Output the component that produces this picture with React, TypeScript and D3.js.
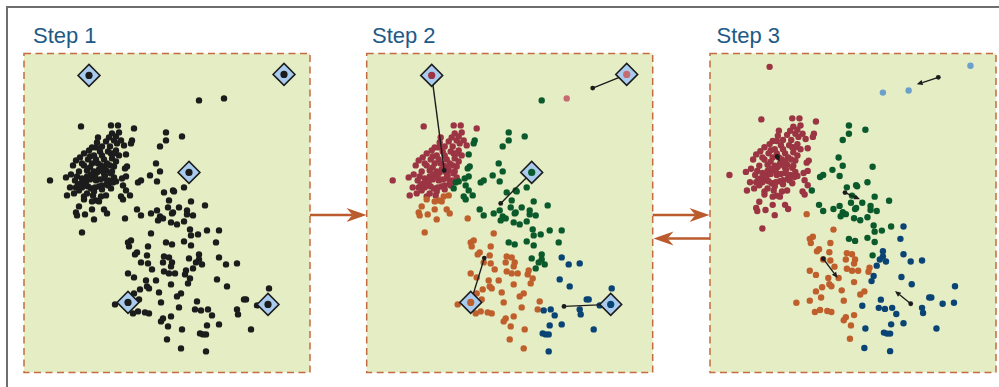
import React from 'react';
import * as d3 from 'd3';

// Data points in panel-local units: [x, y, cluster at step 2, cluster at step 3]
const points: Array<[number, number, string, string]> = [
  // red cluster
  [57,73,'R','R'],[87,72,'R','R'],[94,72,'R','R'],[110,75,'R','R'],[74,84,'R','R'],[95,79,'R','R'],[90,87,'R','R'],[97,87,'R','R'],
  [73,89,'R','R'],[68,94,'R','R'],[86,93,'R','R'],[92,97,'R','R'],[100,92,'R','R'],[76,98,'R','R'],[87,100,'R','R'],[95,102,'R','R'],
  [66,103,'R','R'],[72,106,'R','R'],[80,106,'R','R'],[52,107,'R','R'],[60,112,'R','R'],[68,110,'R','R'],[83,110,'R','R'],[90,113,'R','R'],
  [49,112,'R','R'],[63,117,'R','R'],[70,118,'R','R'],[82,117,'R','R'],[87,120,'R','R'],[53,123,'R','R'],[58,125,'R','R'],[63,123,'R','R'],
  [72,127,'R','R'],[80,125,'R','R'],[85,127,'R','R'],[26,127,'R','R'],[42,124,'R','R'],[57,130,'R','R'],[62,132,'R','R'],[78,132,'R','R'],
  [83,130,'R','R'],[52,134,'R','R'],[67,135,'R','R'],[75,133,'R','R'],[55,137,'R','R'],[70,138,'R','R'],[63,140,'R','R'],[43,142,'R','R'],
  [80,120,'R','R'],[77,112,'R','R'],[88,105,'R','R'],[93,90,'R','R'],
  [60,100,'R','R'],[64,106,'R','R'],[70,102,'R','R'],[78,102,'R','R'],[84,98,'R','R'],[90,100,'R','R'],[92,108,'R','R'],[86,112,'R','R'],
  [80,114,'R','R'],[74,110,'R','R'],[66,114,'R','R'],[58,110,'R','R'],[55,118,'R','R'],[62,128,'R','R'],[67,121,'R','R'],[73,119,'R','R'],
  [76,126,'R','R'],[81,122,'R','R'],[88,118,'R','R'],[90,124,'R','R'],[84,132,'R','R'],[78,136,'R','R'],[71,134,'R','R'],[64,133,'R','R'],
  [58,134,'R','R'],[51,127,'R','R'],[47,121,'R','R'],[54,131,'R','R'],[69,142,'R','R'],[60,143,'R','R'],[82,88,'R','R'],[78,93,'R','R'],
  [85,84,'R','R'],[88,80,'R','R'],[92,83,'R','R'],[72,94,'R','R'],[65,97,'R','R'],[56,104,'R','R'],[46,134,'R','R'],[50,140,'R','R'],
  [75,116,'R','R'],[79,118,'R','R'],[71,123,'R','R'],[66,126,'R','R'],
  // orange that becomes red
  [60,146,'O','R'],[72,147,'O','R'],[77,143,'O','R'],[82,142,'O','R'],[68,148,'O','R'],[75,148,'O','R'],[55,153,'O','R'],[68,156,'O','R'],
  [80,156,'O','R'],[52,159,'O','R'],[53,162,'O','R'],[61,161,'O','R'],[70,166,'O','R'],[83,160,'O','R'],[58,179,'O','R'],
  // orange
  [101,165,'O','O'],[127,180,'O','O'],[107,187,'O','O'],[104,189,'O','O'],[105,193,'O','O'],[124,193,'O','O'],[113,199,'O','O'],[111,201,'O','O'],
  [123,202,'O','O'],[140,203,'O','O'],[117,209,'O','O'],[124,210,'O','O'],[139,209,'O','O'],[128,216,'O','O'],[140,218,'O','O'],[104,220,'O','O'],
  [110,224,'O','O'],[122,227,'O','O'],[132,227,'O','O'],[123,233,'O','O'],[125,235,'O','O'],[116,236,'O','O'],[135,239,'O','O'],[110,240,'O','O'],
  [115,246,'O','O'],[137,249,'O','O'],[91,251,'O','O'],[114,258,'O','O'],[109,260,'O','O'],[121,259,'O','O'],[125,260,'O','O'],[139,265,'O','O'],
  [137,268,'O','O'],[144,273,'O','O'],[143,286,'O','O'],[145,204,'O','O'],[148,209,'O','O'],[147,213,'O','O'],[145,220,'O','O'],[151,220,'O','O'],
  [162,217,'O','O'],[161,221,'O','O'],[147,231,'O','O'],[157,240,'O','O'],[153,243,'O','O'],[147,263,'O','O'],
  // orange that becomes blue
  [157,295,'O','B'],[158,276,'O','B'],[155,254,'O','B'],[171,256,'O','B'],[173,248,'O','B'],[166,225,'O','B'],[164,230,'O','B'],
  // green
  [175,47,'G','L'],
  [108,87,'G','R'],[107,90,'G','R'],[102,101,'G','R'],[103,113,'G','R'],[101,115,'G','R'],[102,123,'G','R'],[98,125,'G','R'],[92,128,'G','R'],
  [89,129,'G','R'],[87,135,'G','R'],[99,132,'G','R'],[97,143,'G','R'],[99,146,'G','R'],[102,137,'G','R'],
  [142,79,'G','G'],[142,87,'G','G'],[158,83,'G','G'],[136,93,'G','G'],[106,142,'G','G'],[114,129,'G','G'],[117,127,'G','G'],[126,122,'G','G'],
  [132,110,'G','G'],[136,118,'G','G'],[133,128,'G','G'],[113,156,'G','G'],[117,162,'G','G'],[127,160,'G','G'],[133,157,'G','G'],[136,163,'G','G'],
  [139,165,'G','G'],[134,167,'G','G'],[140,139,'G','G'],[150,138,'G','G'],[160,134,'G','G'],[145,147,'G','G'],[149,137,'G','G'],[144,154,'G','G'],
  [149,159,'G','G'],[155,154,'G','G'],[163,157,'G','G'],[167,148,'G','G'],[181,152,'G','G'],[169,162,'G','G'],[147,169,'G','G'],[153,171,'G','G'],
  [160,168,'G','G'],[166,176,'G','G'],[183,177,'G','G'],[167,182,'G','G'],[174,181,'G','G'],[160,188,'G','G'],[167,192,'G','G'],[148,191,'G','G'],
  [142,189,'G','G'],[148,160,'G','G'],[163,161,'G','G'],[165,205,'G','G'],
  [195,177,'G','B'],[192,189,'G','B'],[175,201,'G','B'],[175,206,'G','B'],[172,209,'G','B'],[178,211,'G','B'],[169,215,'G','B'],
  // blue
  [195,204,'B','B'],[202,211,'B','B'],[213,210,'B','B'],[193,226,'B','B'],[203,233,'B','B'],[220,246,'B','B'],[222,246,'B','B'],[245,235,'B','B'],
  [233,252,'B','B'],[213,256,'B','B'],[214,261,'B','B'],[177,257,'B','B'],[184,256,'B','B'],[188,262,'B','B'],[183,272,'B','B'],[195,271,'B','B'],
  [227,276,'B','B'],[176,280,'B','B'],[179,281,'B','B'],[182,281,'B','B'],[182,298,'B','B'],
  // pink
  [200,45,'P','L'],
];

// Initial centroids (seed points, drawn as diamonds)
const seedX = [65, 260, 165, 104, 244];
const seedY = [22, 21, 119, 249, 251];
const seedStep2 = ['R', 'P', 'G', 'O', 'B'];
const seedStep3 = ['R', 'L', 'G', 'O', 'B'];

// Step 2 computed centroids
const cent2X = [77.5, 226, 134, 117.6, 197.3];
const cent2Y = [117, 34.7, 150, 204.7, 253];

// Step 3 centroid moves (from -> to)
const moveFromX = [72.4, 228.8, 138.2, 117.1, 202];
const moveFromY = [109, 32.2, 144.1, 208.3, 252];
const moveToX = [74.6, 207.8, 152.8, 131, 186.7];
const moveToY = [114, 39, 150.6, 227, 239.6];

const titles = ['Step 1', 'Step 2', 'Step 3'];

const colors: Record<string, string> = {
  R: '#9b3443',
  O: '#bf5f2c',
  G: '#0b5a2c',
  B: '#0a4475',
  P: '#c86b70',
  L: '#6d9fcb',
  K: '#1c1c1c',
};

const PANEL_W = 286;
const PANEL_H = 319;
const panelLeft = [24, 366.7, 710];
const panelTop = 53.4;
const titleX = [33, 372, 716.5];

function makeScales(i: number) {
  const x = d3.scaleLinear().domain([0, PANEL_W]);
  const y = d3.scaleLinear().domain([0, PANEL_H]);
  if (i < 2) {
    x.range([panelLeft[i], panelLeft[i] + PANEL_W]);
    y.range([panelTop, panelTop + PANEL_H]);
  } else {
    const s = 1.03, fx = 245, fy = 307;
    x.range([panelLeft[i] + fx - s * fx, panelLeft[i] + fx + s * (PANEL_W - fx)]);
    y.range([panelTop + fy - s * fy, panelTop + fy + s * (PANEL_H - fy)]);
  }
  return { x, y };
}

function bigArrow(x1: number, x2: number, y: number) {
  const dir = Math.sign(x2 - x1);
  const len = 20, hw = 7, notch = 14;
  const head = `M${x2},${y} L${x2 - dir * len},${y - hw} L${x2 - dir * notch},${y} L${x2 - dir * len},${y + hw} Z`;
  return (
    <g key={`a${x1}-${y}`}>
      <line x1={x1} y1={y} x2={x2 - dir * notch} y2={y} stroke="#bb5a2c" strokeWidth={2.6} />
      <path d={head} fill="#bb5a2c" />
    </g>
  );
}

function diamond(cx: number, cy: number, dotColor: string, key: string) {
  const r = 11;
  return (
    <g key={key}>
      <path d={`M${cx},${cy - r} L${cx + r},${cy} L${cx},${cy + r} L${cx - r},${cy} Z`} fill="#a9cbee" stroke="#1c1c1c" strokeWidth={1.5} strokeLinejoin="miter" />
      <circle cx={cx} cy={cy} r={3.6} fill={dotColor} />
    </g>
  );
}

export default function App() {
  const scales = [0, 1, 2].map(makeScales);
  const R = 3.2;

  return (
    <svg width={999} height={387} style={{ position: 'absolute', left: 0, top: 0 }} xmlns="http://www.w3.org/2000/svg">
      <rect x={0} y={0} width={999} height={387} fill="#ffffff" />
      <path d="M7,387 V7 H999" fill="none" stroke="#6e6e6e" strokeWidth={2} />
      {[0, 1, 2].map(i => (
        <g key={`p${i}`}>
          <text x={titleX[i]} y={43} fontFamily="'Liberation Sans', Arial, sans-serif" fontSize={22} fill="#1e5a86">{titles[i]}</text>
          <rect x={panelLeft[i]} y={panelTop} width={PANEL_W} height={PANEL_H} fill="#e5edc5" stroke="#c46c40" strokeWidth={1.5} strokeDasharray="7 4.5" />
        </g>
      ))}
      {/* Step 1 */}
      <g>
        {points.map((p, k) => (
          <circle key={`s1-${k}`} cx={scales[0].x(p[0])} cy={scales[0].y(p[1])} r={R} fill={colors.K} />
        ))}
        {seedX.map((sx, k) => diamond(scales[0].x(sx), scales[0].y(seedY[k]), colors.K, `d1-${k}`))}
      </g>
      {/* Step 2 */}
      <g>
        {points.map((p, k) => (
          <circle key={`s2-${k}`} cx={scales[1].x(p[0])} cy={scales[1].y(p[1])} r={R} fill={colors[p[2]]} />
        ))}
        {seedX.map((sx, k) => (
          <g key={`l2-${k}`}>
            <line x1={scales[1].x(sx)} y1={scales[1].y(seedY[k])} x2={scales[1].x(cent2X[k])} y2={scales[1].y(cent2Y[k])} stroke="#1c1c1c" strokeWidth={1.4} />
            <circle cx={scales[1].x(cent2X[k])} cy={scales[1].y(cent2Y[k])} r={2.4} fill="#1c1c1c" />
          </g>
        ))}
        {seedX.map((sx, k) => diamond(scales[1].x(sx), scales[1].y(seedY[k]), colors[seedStep2[k]], `d2-${k}`))}
      </g>
      {/* Step 3 */}
      <g>
        {points.map((p, k) => (
          <circle key={`s3-${k}`} cx={scales[2].x(p[0])} cy={scales[2].y(p[1])} r={R} fill={colors[p[3]]} />
        ))}
        {seedX.map((sx, k) => (
          <circle key={`sd3-${k}`} cx={scales[2].x(sx)} cy={scales[2].y(seedY[k])} r={R} fill={colors[seedStep3[k]]} />
        ))}
        {moveFromX.map((fx, k) => {
          const x1 = scales[2].x(fx), y1 = scales[2].y(moveFromY[k]);
          const x2 = scales[2].x(moveToX[k]), y2 = scales[2].y(moveToY[k]);
          const a = Math.atan2(y2 - y1, x2 - x1);
          const L = 6, hw = 2.6;
          const bx = x2 - L * Math.cos(a), by = y2 - L * Math.sin(a);
          const px = -Math.sin(a) * hw, py = Math.cos(a) * hw;
          return (
            <g key={`m3-${k}`}>
              <line x1={x1} y1={y1} x2={bx} y2={by} stroke="#1c1c1c" strokeWidth={1.3} />
              <path d={`M${x2},${y2} L${bx + px},${by + py} L${bx - px},${by - py} Z`} fill="#1c1c1c" />
              <circle cx={x1} cy={y1} r={2.4} fill="#1c1c1c" />
            </g>
          );
        })}
      </g>
      {bigArrow(310, 366.5, 215)}
      {bigArrow(652.7, 709.5, 215)}
      {bigArrow(710, 653.5, 238.5)}
    </svg>
  );
}
